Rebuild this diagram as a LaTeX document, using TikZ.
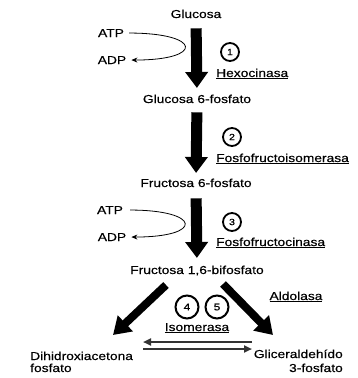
\documentclass[tikz,border=0pt]{standalone}
\usepackage{fontspec}
\setmainfont{Liberation Sans}[FakeStretch=1.2,FakeBold=0.4]
\usetikzlibrary{arrows.meta,calc}
\begin{document}
\begin{tikzpicture}[x=1pt,y=-1pt,
  txt/.style={inner sep=0pt,anchor=base,font=\fontsize{11.5}{13}\selectfont},
  lbl/.style={txt,anchor=base west},
  num/.style={circle,draw,line width=1.8pt,minimum size=18pt,inner sep=0pt,font=\fontsize{9}{10}\selectfont},
  bignum/.style={num,line width=2pt,minimum size=23pt,font=\fontsize{10}{11}\selectfont},
  bigarrow/.style={line width=11pt,-{Triangle[width=22pt,length=16pt]}},
  diagarrow/.style={line width=8pt,-{Triangle[width=21pt,length=17pt]}},
  cofactor/.style={line width=0.8pt,-{Stealth[length=6pt,width=5pt]}},
  eqarrow/.style={line width=2.4pt,draw=black!80,-{Triangle[length=8pt,width=7pt]}}]
\useasboundingbox (0,0) rectangle (358,378);

% metabolites
\node[txt] (glu) at (196,18) {Glucosa};
\node[txt] (g6p) at (197,103) {Glucosa 6-fosfato};
\node[txt] (f6p) at (196,187) {Fructosa 6-fosfato};
\node[txt] (f16) at (197,274) {Fructosa 1,6-bifosfato};
\node[txt,anchor=base west] (dhap) at (30,360) {Dihidroxiacetona};
\node[txt,anchor=base west] (dhap2) at (30,372) {fosfato};
\node[txt,anchor=base east] (gap) at (343,358) {Gliceraldehído};
\node[txt,anchor=base east] (gap2) at (343,372) {3-fosfato};

% cofactors
\node[txt] (atp1) at (111,37) {ATP};
\node[txt] (adp1) at (112,64) {ADP};
\node[txt] (atp3) at (110,214) {ATP};
\node[txt] (adp3) at (112,241) {ADP};

% enzyme numbers and names
\node[num] (n1) at (230,52) {1};
\node[num] (n2) at (232,137) {2};
\node[num] (n3) at (232,222) {3};
\node[bignum] (n4) at (187,307) {4};
\node[bignum] (n5) at (217,307) {5};
\node[lbl] (e1) at (216,77) {\underline{Hexocinasa}};
\node[lbl] (e2) at (216,162) {\underline{Fosfofructoisomerasa}};
\node[lbl] (e3) at (216,246) {\underline{Fosfofructocinasa}};
\node[txt] (e4) at (296,300) {\underline{Aldolasa}};
\node[txt] (e5) at (197,331) {\underline{Isomerasa}};

% ATP -> ADP curves
\draw[cofactor,shorten <=5pt,shorten >=5pt] (atp1.east) .. controls +(78,0) and +(78,0) .. (adp1.east);
\draw[cofactor,shorten <=7pt,shorten >=5pt] (atp3.east) .. controls +(78,0) and +(78,0) .. (adp3.east);

% main arrows
\draw[bigarrow,shorten <=10pt,shorten >=6.5pt] (glu.south) -- (g6p.north);
\draw[bigarrow,shorten <=9pt,shorten >=5.5pt] (g6p.south) -- (f6p.north);
\draw[bigarrow,shorten <=11pt,shorten >=7.5pt] (f6p.south) -- (f16.north);

% aldolase split
\coordinate (dlS) at (166,285);
\coordinate (dlE) at (113,335);
\coordinate (drS) at (223,284);
\coordinate (drE) at (273,335);
\draw[diagarrow] (dlS) -- (dlE);
\draw[diagarrow] (drS) -- (drE);

% isomerase equilibrium
\coordinate (eqTR) at (252,342);
\coordinate (eqTL) at (143,342);
\coordinate (eqBL) at (143,349);
\coordinate (eqBR) at (252,349);
\draw[eqarrow] (eqTR) -- (eqTL);
\draw[eqarrow] (eqBL) -- (eqBR);
\end{tikzpicture}
\end{document}
